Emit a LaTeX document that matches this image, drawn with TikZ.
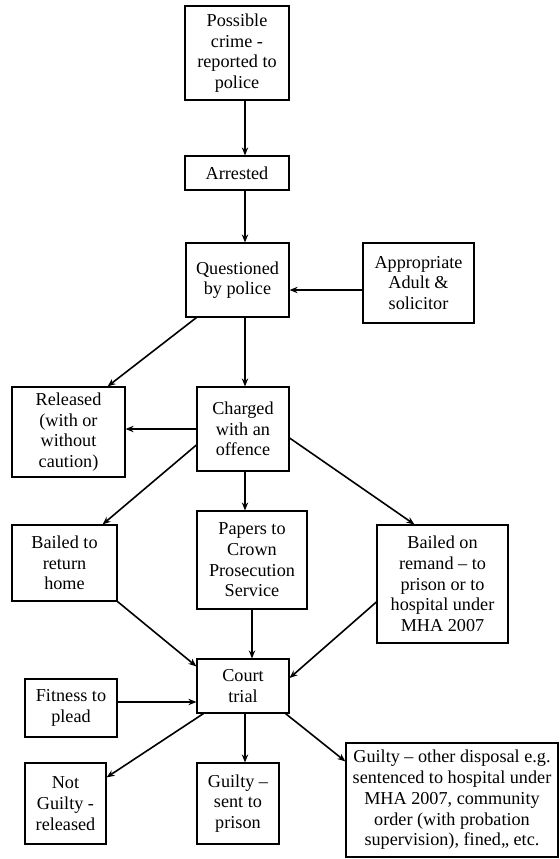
\documentclass[tikz,border=0pt]{standalone}
\usepackage{fontspec}
\setmainfont{Liberation Serif}
\usetikzlibrary{arrows.meta}
\begin{document}
\begin{tikzpicture}[x=0.5pt,y=-0.5pt,>={Stealth[length=4pt,width=3.2pt]},
    box/.style={draw,line width=0.6pt,align=center,inner sep=0pt,
        font=\fontsize{9.1}{10.35}\selectfont},
    arr/.style={->,line width=0.8pt}]
    \useasboundingbox (0,0) rectangle (559,859);
    % boxes
    \node[box,minimum width=52pt,minimum height=47pt] (crime) at (237,53) {Possible\\crime -\\reported to\\police};
    \node[box,minimum width=52pt,minimum height=17pt] (arrest) at (237,173) {Arrested};
    \node[box,minimum width=51.5pt,minimum height=37pt] (quest) at (237.5,280) {Questioned\\by police};
    \node[box,minimum width=55.5pt,minimum height=40pt] (adult) at (418.5,283) {Appropriate\\Adult \&\\solicitor};
    \node[box,minimum width=56.5pt,minimum height=45pt] (released) at (68.5,432) {Released\\(with or\\without\\caution)};
    \node[box,minimum width=46pt,minimum height=42pt] (charged) at (243,429) {Charged\\with an\\offence};
    \node[box,minimum width=52.5pt,minimum height=38pt] (home) at (64.5,563) {Bailed to\\return\\home};
    \node[box,minimum width=55pt,minimum height=49pt] (papers) at (252,560) {Papers to\\Crown\\Prosecution\\Service};
    \node[box,minimum width=65.5pt,minimum height=59pt] (remand) at (442.5,584) {Bailed on\\remand – to\\prison or to\\hospital under\\MHA 2007};
    \node[box,minimum width=46pt,minimum height=27pt] (court) at (243,686) {Court\\trial};
    \node[box,minimum width=46pt,minimum height=29pt] (fitness) at (71,708) {Fitness to\\plead};
    \node[box,minimum width=40.5pt,minimum height=40.5pt] (notguilty) at (65.5,803.5) {Not\\Guilty -\\released};
    \node[box,minimum width=41pt,minimum height=40.5pt] (prison) at (238,803.5) {Guilty –\\sent to\\prison};
    \node[box,minimum width=106pt,minimum height=57pt] (other) at (452,800) {Guilty – other disposal e.g.\\sentenced to hospital under\\MHA 2007, community\\order (with probation\\supervision), fined,, etc.};
    % helper points
    \coordinate (spine) at (245,0);
    \coordinate (adin) at ([yshift=-3.5pt]adult.west);
    \coordinate (fitout) at ([yshift=3pt]fitness.east);
    % arrows
    \draw[arr] (crime.south -| spine) -- (arrest.north -| spine);
    \draw[arr] (arrest.south -| spine) -- (quest.north -| spine);
    \draw[arr] (adin) -- (adin -| quest.east);
    \draw[arr] ([xshift=5.5pt]quest.south west) -- ([xshift=-9pt]released.north east);
    \draw[arr] (quest.south -| spine) -- (charged.north -| spine);
    \draw[arr] (charged.west) -- (charged.west -| released.east);
    \draw[arr] ([yshift=-8pt]charged.west) -- ([xshift=-7.5pt]home.north east);
    \draw[arr] (charged.south -| spine) -- (papers.north -| spine);
    \draw[arr] ([yshift=-4.5pt]charged.east) -- ([xshift=19pt]remand.north west);
    \draw[arr] (home.south east) -- ([yshift=-4pt]court.north west);
    \draw[arr] (papers.south) -- (court.north -| papers.south);
    \draw[arr] ([yshift=-9pt]remand.west) -- ([yshift=4pt]court.east);
    \draw[arr] (fitout) -- (fitout -| court.west);
    \draw[arr] ([xshift=3.5pt]court.south west) -- ([yshift=-7.5pt]notguilty.north east);
    \draw[arr] (court.south -| spine) -- (prison.north -| spine);
    \draw[arr] ([xshift=-2pt]court.south east) -- ([yshift=-9.5pt]other.north west);
\end{tikzpicture}
\end{document}
